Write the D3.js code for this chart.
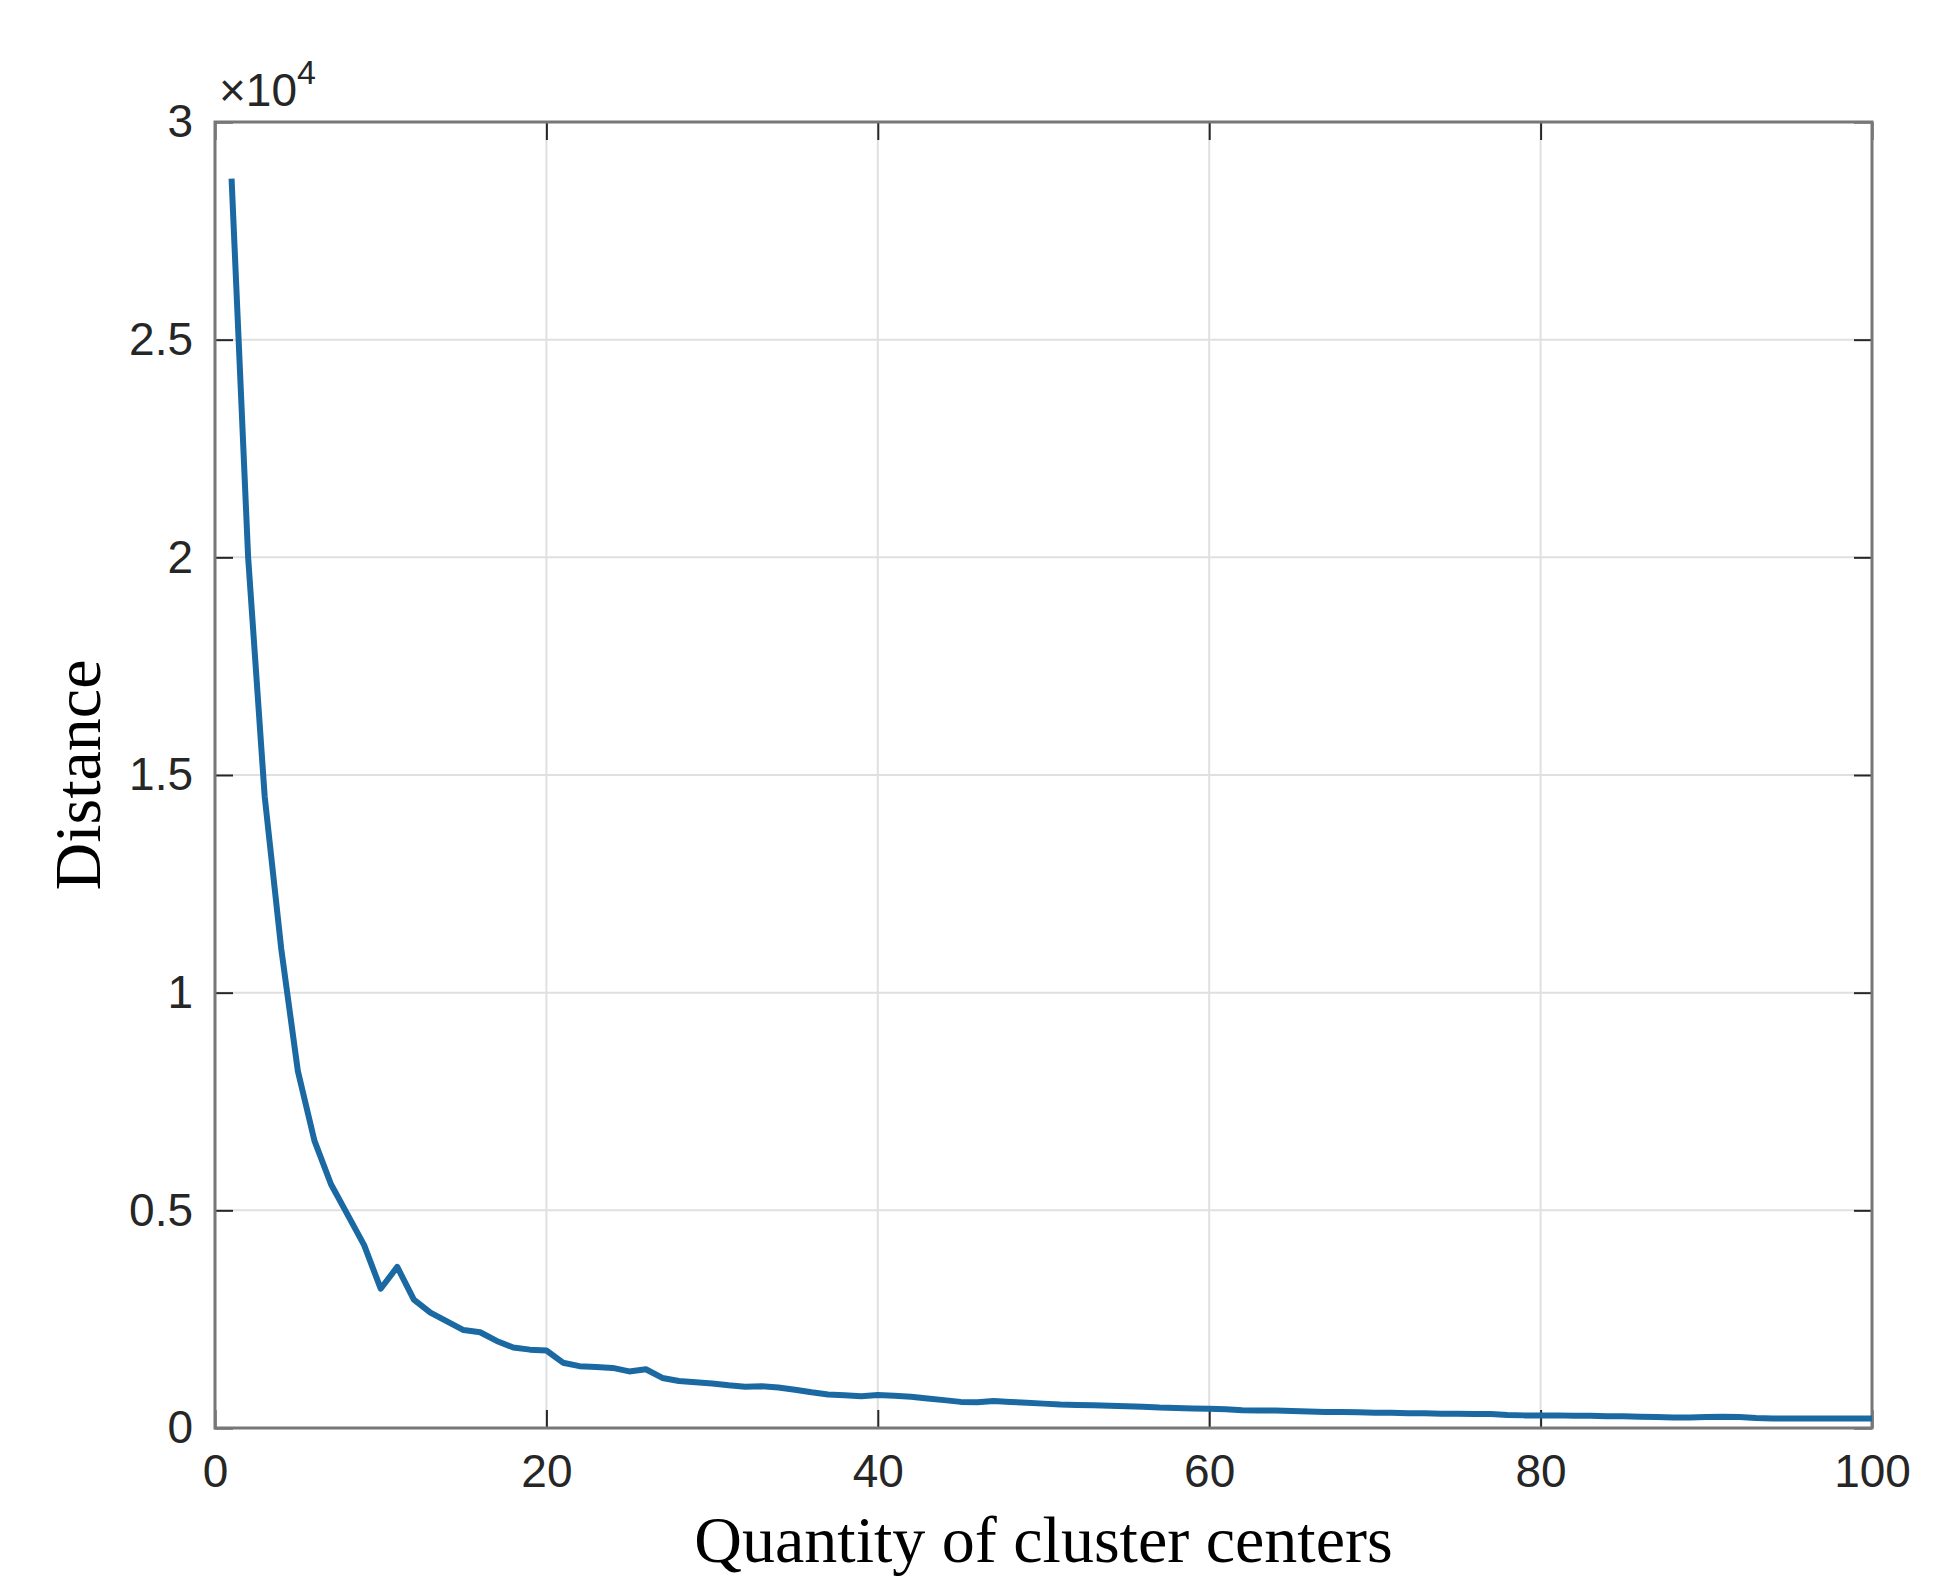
<!DOCTYPE html>
<html>
<head>
<meta charset="utf-8">
<script src="https://cdn.jsdelivr.net/npm/d3@7"></script>
<style>
	body { margin: 0; background: #fff; }
</style>
</head>
<body>
<svg id="chart" width="1945" height="1595"></svg>
<script>
// values (distance, x 10^4 shown on axis)
const clusterCounts = d3.range(1, 101)
const distances = [
	28700, 20000, 14500, 11000, 8200, 6600, 5600, 4900, 4200, 3200,
	3700, 2950, 2650, 2450, 2250, 2200, 2000, 1850, 1800,
	1780, 1500, 1420, 1400, 1380, 1300, 1350, 1150, 1080, 1050,
	1020, 980, 950, 960, 930, 880, 820, 770, 750, 730,
	760, 740, 720, 680, 640, 600, 590, 620, 600, 580,
	560, 540, 530, 520, 510, 500, 490, 470, 460, 450,
	440, 430, 410, 400, 400, 390, 380, 370, 370, 360,
	350, 350, 340, 340, 330, 330, 320, 320, 300, 290,
	290, 290, 280, 280, 270, 270, 260, 250, 240, 240,
	250, 260, 250, 230, 220, 220, 220, 220, 220, 220, 220,
]
const xTicks = [0, 20, 40, 60, 80, 100]
const yTicks = [0, 5000, 10000, 15000, 20000, 25000, 30000]
const yTickLabels = ['0', '0.5', '1', '1.5', '2', '2.5', '3']

const margin = { left: 215, right: 73, top: 122, bottom: 167 }
const width = 1945, height = 1595

const svg = d3.select('#chart')

const x = d3.scaleLinear().domain([0, 100]).range([margin.left, width - margin.right])
const y = d3.scaleLinear().domain([0, 30000]).range([height - margin.bottom, margin.top])

// grid
svg.append('g')
	.selectAll('line.gx')
	.data(xTicks.slice(1, -1))
	.enter()
	.append('line')
	.attr('x1', d => x(d)).attr('x2', d => x(d))
	.attr('y1', y(0)).attr('y2', y(30000))
	.attr('stroke', '#e0e0e0').attr('stroke-width', 2)
svg.append('g')
	.selectAll('line.gy')
	.data(yTicks.slice(1, -1))
	.enter()
	.append('line')
	.attr('y1', d => y(d)).attr('y2', d => y(d))
	.attr('x1', x(0)).attr('x2', x(100))
	.attr('stroke', '#e0e0e0').attr('stroke-width', 2)

// axes (box style, ticks inward on all sides)
const tickFont = '"Liberation Sans", Arial, sans-serif'
const styleAxis = g => {
	g.select('.domain').remove()
	g.selectAll('.tick line').attr('stroke', '#262626').attr('stroke-width', 2)
	g.selectAll('.tick text').attr('fill', '#262626').style('font-family', tickFont).style('font-size', '46px')
}
svg.append('g')
	.attr('transform', `translate(0,${y(0)})`)
	.call(d3.axisBottom(x).tickValues(xTicks).tickSize(-18).tickPadding(26))
	.call(styleAxis)
svg.append('g')
	.attr('transform', `translate(0,${y(30000)})`)
	.call(d3.axisTop(x).tickValues(xTicks).tickSize(-18).tickFormat(''))
	.call(styleAxis)
svg.append('g')
	.attr('transform', `translate(${x(0)},0)`)
	.call(d3.axisLeft(y).tickValues(yTicks).tickSize(-18).tickPadding(22).tickFormat((d, i) => yTickLabels[i]))
	.call(styleAxis)
svg.append('g')
	.attr('transform', `translate(${x(100)},0)`)
	.call(d3.axisRight(y).tickValues(yTicks).tickSize(-18).tickFormat(''))
	.call(styleAxis)

svg.append('rect')
	.attr('x', x(0)).attr('y', y(30000))
	.attr('width', x(100) - x(0)).attr('height', y(0) - y(30000))
	.attr('fill', 'none').attr('stroke', '#777').attr('stroke-width', 3)

// exponent label
const expo = svg.append('text')
	.attr('x', x(0) + 4).attr('y', y(30000) - 16)
	.attr('fill', '#262626')
	.style('font-family', tickFont).style('font-size', '46px')
expo.append('tspan').text('×10')
expo.append('tspan').attr('dy', -22).style('font-size', '34px').text('4')

// line
const line = d3.line().x((d, i) => x(clusterCounts[i])).y(d => y(d))
svg.append('path')
	.datum(distances)
	.attr('d', line)
	.attr('fill', 'none')
	.attr('stroke', '#1b69a2')
	.attr('stroke-width', 6)
	.attr('stroke-linejoin', 'round')

// axis titles
const titleFont = '"Liberation Serif", "Times New Roman", serif'
svg.append('text')
	.attr('x', (x(0) + x(100)) / 2).attr('y', 1562)
	.attr('text-anchor', 'middle')
	.style('font-family', titleFont).style('font-size', '66px')
	.text('Quantity of cluster centers')
svg.append('text')
	.attr('transform', `translate(100,${(y(0) + y(30000)) / 2}) rotate(-90)`)
	.attr('text-anchor', 'middle')
	.style('font-family', titleFont).style('font-size', '66px')
	.text('Distance')
</script>
</body>
</html>
